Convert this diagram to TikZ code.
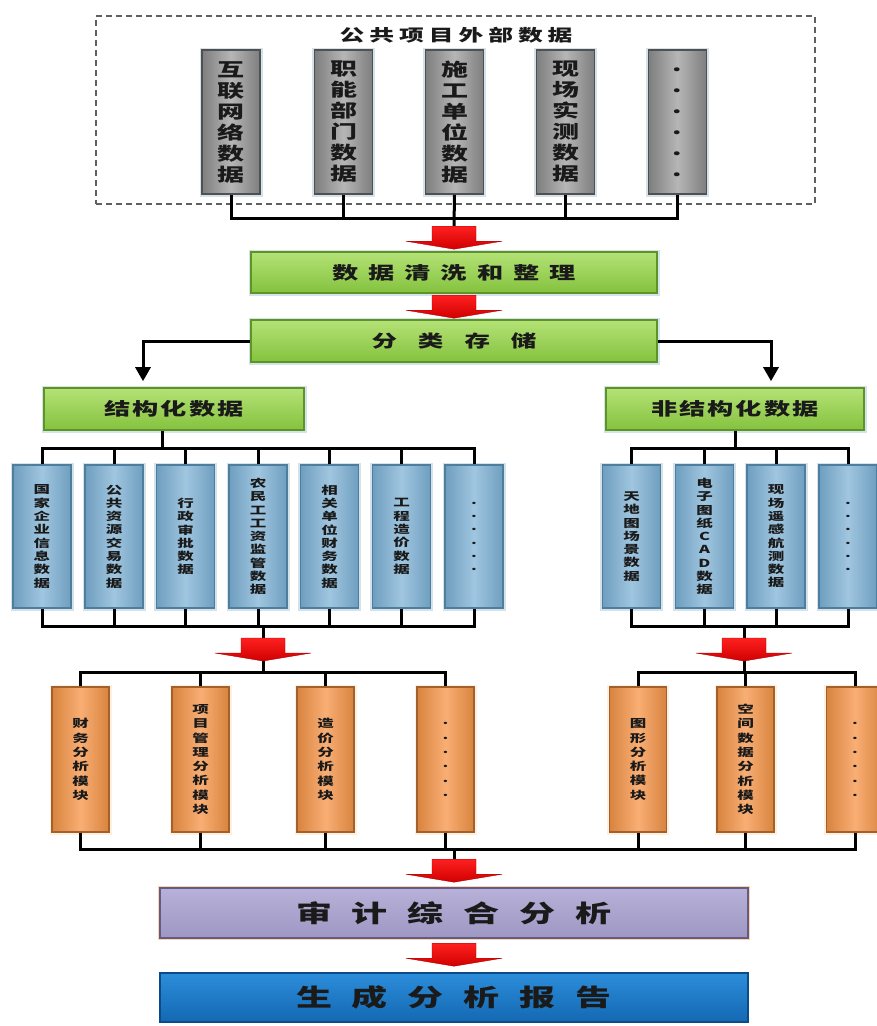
\documentclass[tikz,border=0pt]{standalone}
\usepackage{fontspec}
\newfontfamily\cjk{Noto Sans CJK SC}[FakeStretch=1.5]
\usetikzlibrary{arrows.meta,calc}

\ExplSyntaxOn
\seq_new:N \l_my_chars_seq
\NewDocumentCommand \vtxt { m }
 {
  \seq_clear:N \l_my_chars_seq
  \tl_map_inline:nn {#1} { \seq_put_right:Nn \l_my_chars_seq {##1} }
  \seq_use:Nn \l_my_chars_seq { \\ }
 }
\NewDocumentCommand \htxt { m m }
 {
  \seq_clear:N \l_my_chars_seq
  \tl_map_inline:nn {#2} { \seq_put_right:Nn \l_my_chars_seq {##1} }
  \seq_use:Nn \l_my_chars_seq { \hspace{#1} }
 }
\ExplSyntaxOff

\definecolor{txt}{HTML}{1A1A1A}
\definecolor{grayE}{HTML}{7E7E7E}
\definecolor{grayM}{HTML}{B6B6B6}
\definecolor{grayD}{HTML}{505050}
\definecolor{greenT}{HTML}{B4E276}
\definecolor{greenB}{HTML}{84C23E}
\definecolor{greenD}{HTML}{5C9428}
\definecolor{blueE}{HTML}{6F9EBF}
\definecolor{blueM}{HTML}{A0C6E0}
\definecolor{blueD}{HTML}{4E7E9E}
\definecolor{orE}{HTML}{D8843F}
\definecolor{orM}{HTML}{F9AE74}
\definecolor{orD}{HTML}{A4602A}
\definecolor{purT}{HTML}{B7B0D8}
\definecolor{purB}{HTML}{9E97C3}
\definecolor{purD}{HTML}{625B88}
\definecolor{repT}{HTML}{2C8DDA}
\definecolor{repB}{HTML}{1468B2}
\definecolor{repD}{HTML}{0B4C88}
\definecolor{arrT}{HTML}{FF2020}
\definecolor{arrB}{HTML}{D00000}
\definecolor{arrD}{HTML}{B00000}
\definecolor{halo}{HTML}{D4E2EC}

\tikzset{
  box/.style={inner sep=0pt, align=center, text=txt, line width=1.6pt},
  glow/.style={preaction={draw=halo, line width=5pt}},
  graybox/.style={box, glow, minimum width=58pt, minimum height=144pt,
    left color=grayE, right color=grayE, middle color=grayM, draw=grayD,
    font=\cjk\bfseries\fontsize{18}{21}\selectfont},
  greenbox/.style={box, glow, top color=greenT, bottom color=greenB, draw=greenD},
  bluebox/.style={box, glow, minimum width=58pt, minimum height=143pt,
    left color=blueE, right color=blueE, middle color=blueM, draw=blueD,
    font=\cjk\bfseries\fontsize{11}{13.3}\selectfont},
  orbox/.style={box, minimum width=57pt, minimum height=145pt,
    preaction={draw=orange!12, line width=5pt},
    left color=orE, right color=orE, middle color=orM, draw=orD,
    font=\cjk\bfseries\fontsize{11}{14.3}\selectfont},
  widebox/.style={box, minimum width=588pt, font=\cjk\bfseries\fontsize{24}{28}\selectfont},
  dashbox/.style={draw=gray!75!black, dash pattern=on 6pt off 4pt, line width=1.1pt, inner sep=0pt},
  bus/.style={line width=3pt, black},
  elbow/.style={line width=3pt, black, -{Triangle[length=14pt,width=15pt]}},
  rarrow/.pic={\path[draw=arrD, line width=0.4pt, top color=arrT, bottom color=arrB]
    (-22,0) -- (22,0) -- (22,15) -- (48,15) -- (0,23) -- (-48,15) -- (-22,15) -- cycle;}
}

\begin{document}
\begin{tikzpicture}[x=1pt,y=-1pt]
\useasboundingbox[fill=white] (0,0) rectangle (877,1026);

% ---------- external data ----------
\node[dashbox, minimum width=719pt, minimum height=188pt] (ext) at (455.5,110) {};
\node[text=txt, font=\cjk\bfseries\fontsize{16.5}{20}\selectfont] (title) at (456,35) {\htxt{5pt}{公共项目外部数据}};

\node[graybox] (g1) at (231,122) {\vtxt{互联网络数据}};
\node[graybox] (g2) at (343.5,122) {\vtxt{职能部门数据}};
\node[graybox] (g3) at (454.5,122) {\vtxt{施工单位数据}};
\node[graybox] (g4) at (565.5,122) {\vtxt{现场实测数据}};
\node[graybox] (g5) at (677.5,122) {\vtxt{......}};

% ---------- green boxes ----------
\node[greenbox, minimum width=406pt, minimum height=41pt,
  font=\cjk\bfseries\fontsize{17.5}{20}\selectfont] (clean) at (454,272.5) {\htxt{10pt}{数据清洗和整理}};
\node[greenbox, minimum width=406pt, minimum height=42pt,
  font=\cjk\bfseries\fontsize{17}{20}\selectfont] (store) at (454,341) {\htxt{21pt}{分类存储}};
\node[greenbox, minimum width=260pt, minimum height=42pt,
  font=\cjk\bfseries\fontsize{17.5}{20}\selectfont] (struct) at (174,409) {\htxt{2pt}{结构化数据}};
\node[greenbox, minimum width=258pt, minimum height=42pt,
  font=\cjk\bfseries\fontsize{17.5}{20}\selectfont] (unstruct) at (735,409) {\htxt{2pt}{非结构化数据}};

% ---------- blue boxes ----------
\node[bluebox] (b1) at (42,536.5) {\vtxt{国家企业信息数据}};
\node[bluebox] (b2) at (114,536.5) {\vtxt{公共资源交易数据}};
\node[bluebox] (b3) at (185.5,536.5) {\vtxt{行政审批数据}};
\node[bluebox] (b4) at (258,536.5) {\vtxt{农民工工资监管数据}};
\node[bluebox] (b5) at (329.5,536.5) {\vtxt{相关单位财务数据}};
\node[bluebox] (b6) at (401.5,536.5) {\vtxt{工程造价数据}};
\node[bluebox] (b7) at (474,536.5) {\vtxt{......}};

\node[bluebox] (c1) at (631.5,536.5) {\vtxt{天地图场景数据}};
\node[bluebox] (c2) at (704.5,536.5) {\vtxt{电子图纸CAD数据}};
\node[bluebox] (c3) at (776,536.5) {\vtxt{现场遥感航测数据}};
\node[bluebox] (c4) at (848,536.5) {\vtxt{......}};

% ---------- orange boxes ----------
\node[orbox] (o1) at (80.5,759.5) {\vtxt{财务分析模块}};
\node[orbox] (o2) at (200.5,759.5) {\vtxt{项目管理分析模块}};
\node[orbox] (o3) at (325.5,759.5) {\vtxt{造价分析模块}};
\node[orbox] (o4) at (445.5,759.5) {\vtxt{......}};
\node[orbox] (o5) at (638,759.5) {\vtxt{图形分析模块}};
\node[orbox] (o6) at (745.5,759.5) {\vtxt{空间数据分析模块}};
\node[orbox] (o7) at (855,759.5) {\vtxt{......}};

% ---------- bottom boxes ----------
\node[widebox, minimum height=50pt, top color=purT, bottom color=purB, draw=purD,
  preaction={draw=orange!35, line width=4.5pt}] (audit) at (454,913) {\htxt{20pt}{审计综合分析}};
\node[widebox, minimum height=49pt, top color=repT, bottom color=repB, draw=repD] (report) at (454,997.5) {\htxt{20pt}{生成分析报告}};

% ---------- coordinates ----------
\coordinate (ar1) at ($(clean.north)+(0,-25)$);
\coordinate (ar2) at ($(store.north)+(0,-24)$);
\coordinate (ar3) at (263,638);
\coordinate (ar4) at (744,638);
\coordinate (ar5) at ($(audit.north)+(0,-28)$);
\coordinate (ar6) at ($(report.north)+(0,-29)$);
\coordinate (j1) at (454.5,218);
\coordinate (j2) at ($(struct.south)+(-12,18)$);
\coordinate (j3) at ($(unstruct.south)+(0,18)$);
\coordinate (j4) at (263,626);
\coordinate (j5) at (744,626);
\coordinate (j6) at (263,672);
\coordinate (j7) at (744,672);
\coordinate (j8) at ($(audit.north)+(0,-38)$);

% ---------- buses ----------
\draw[bus] (g1.south) |- (j1) -| (g5.south);
\foreach \n in {g2,g4} \draw[bus] (\n.south) -- (\n.south |- j1);
\draw[bus] (g3.south) -- (ar1);

\draw[bus] ($(struct.south)+(-12,0)$) -- (j2);
\draw[bus] (b1.north) |- (j2) -| (b7.north);
\foreach \n in {b2,b3,b4,b5,b6} \draw[bus] (\n.north) -- (\n.north |- j2);
\draw[bus] (unstruct.south) -- (j3);
\draw[bus] (c1.north) |- (j3) -| (c4.north);
\foreach \n in {c2,c3} \draw[bus] (\n.north) -- (\n.north |- j3);

\draw[bus] (b1.south) |- (j4) -| (b7.south);
\foreach \n in {b2,b3,b4,b5,b6} \draw[bus] (\n.south) -- (\n.south |- j4);
\draw[bus] (j4) -- (ar3);
\draw[bus] (c1.south) |- (j5) -| (c4.south);
\foreach \n in {c2,c3} \draw[bus] (\n.south) -- (\n.south |- j5);
\draw[bus] (j5) -- (ar4);

\draw[bus] ($(ar3)+(0,20)$) -- (j6);
\draw[bus] (o1.north) |- (j6) -| (o4.north);
\foreach \n in {o2,o3} \draw[bus] (\n.north) -- (\n.north |- j6);
\draw[bus] ($(ar4)+(0,20)$) -- (j7);
\draw[bus] (o5.north) |- (j7) -| (o7.north);
\draw[bus] (o6.north) -- (o6.north |- j7);

\draw[bus] (o1.south) |- (j8) -| (o7.south);
\foreach \n in {o2,o3,o4,o5,o6} \draw[bus] (\n.south) -- (\n.south |- j8);
\draw[bus] (j8) -- (ar5);

% ---------- elbow arrows ----------
\draw[elbow] (store.west) -| ($(struct.north)+(-31,-6)$);
\draw[elbow] (store.east) -| ($(unstruct.north)+(36,-6)$);

% ---------- red arrows ----------
\foreach \a in {ar1,ar2,ar3,ar4,ar5,ar6} \pic at (\a) {rarrow};
\end{tikzpicture}
\end{document}
